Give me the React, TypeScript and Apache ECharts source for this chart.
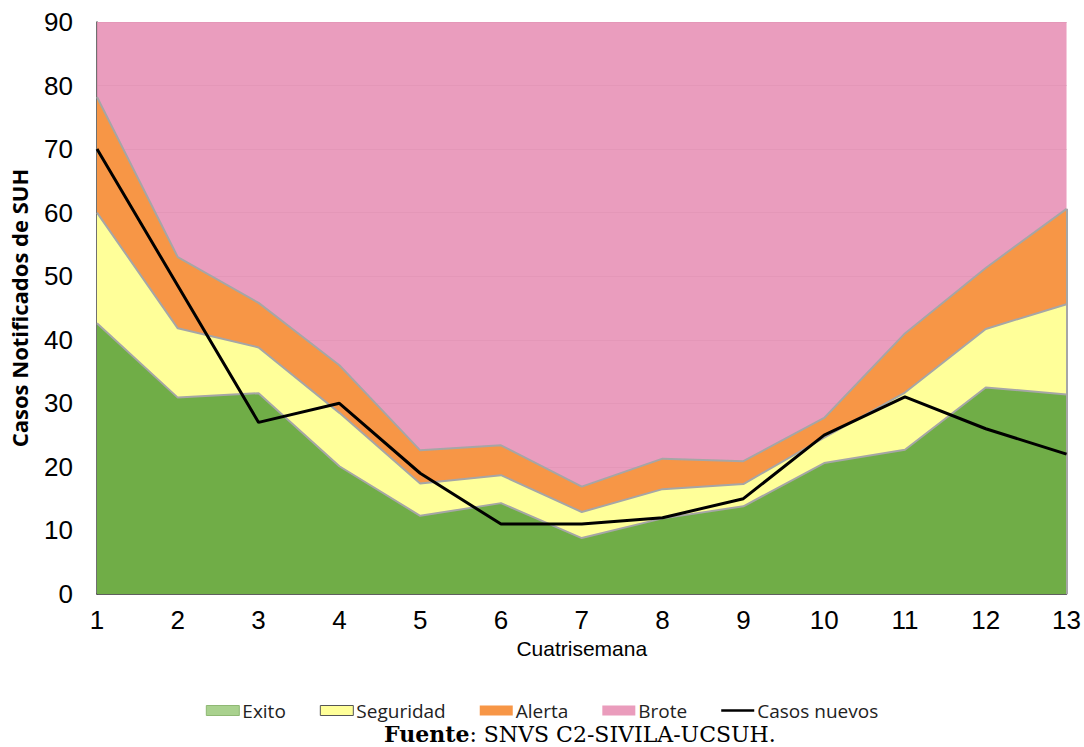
import React, { useEffect, useRef } from "react";
import * as echarts from "echarts";

const categories = ["1", "2", "3", "4", "5", "6", "7", "8", "9", "10", "11", "12", "13"];
const exito = [42.6, 30.9, 31.6, 20.1, 12.3, 14.3, 8.8, 11.9, 13.8, 20.6, 22.7, 32.5, 31.4];
const seguridad = [17.4, 10.9, 7.2, 8.4, 5.1, 4.4, 4.1, 4.6, 3.5, 4.0, 9.0, 9.2, 14.2];
const alerta = [18.2, 11.2, 7.0, 7.5, 5.2, 4.7, 4.0, 4.8, 3.6, 3.1, 9.3, 9.6, 15.0];
const brote = [11.8, 37.0, 44.2, 54.0, 67.4, 66.6, 73.1, 68.7, 69.1, 62.3, 49.0, 38.7, 29.4];
const casosNuevos = [70, 48.5, 27, 30, 19, 11, 11, 12, 15, 25, 31, 26, 22];

export default function App() {
  const ref = useRef<HTMLDivElement>(null);
  useEffect(() => {
    if (!ref.current) return;
    const chart = echarts.init(ref.current, null, { renderer: "svg" });
    const areaSeries = (name: string, data: number[], color: string, z: number) => ({
      name,
      type: "line",
      stack: "total",
      data,
      showSymbol: false,
      symbol: "none",
      z,
      lineStyle: { color: "#A6A6A6", width: 2 },
      itemStyle: { color },
      areaStyle: { color, opacity: 1 },
    });
    chart.setOption({
      animation: false,
      backgroundColor: "#ffffff",
      grid: { left: 97, right: 16, top: 22, bottom: 153 },
      legend: {
        top: 696,
        left: "center",
        itemWidth: 33,
        itemHeight: 10,
        itemGap: 34,
        textStyle: { fontFamily: "Open Sans", fontSize: 19, color: "#222", padding: [0, 0, 0, -2] },
        data: [
          { name: "Exito", icon: "rect", itemStyle: { color: "#A9D18E", borderColor: "#8FB874", borderWidth: 1 } },
          { name: "Seguridad", icon: "rect", itemStyle: { color: "#FFFF99", borderColor: "#555", borderWidth: 1 } },
          { name: "Alerta", icon: "rect", itemStyle: { color: "#F79646" } },
          { name: "Brote", icon: "rect", itemStyle: { color: "#EA9CBC" } },
          { name: "Casos nuevos", icon: "path://M0,0 L33,0 L33,2.5 L0,2.5 Z", itemStyle: { color: "#000" } },
        ],
      },
      xAxis: {
        type: "category",
        data: categories,
        boundaryGap: false,
        name: "Cuatrisemana",
        nameLocation: "middle",
        nameGap: 33,
        nameTextStyle: { fontFamily: "Liberation Sans", fontSize: 21, color: "#000" },
        axisLine: { lineStyle: { color: "#404040", width: 1.5 } },
        axisTick: { show: false },
        axisLabel: { fontFamily: "Liberation Sans", fontSize: 26, color: "#000", margin: 13 },
        splitLine: { show: false },
      },
      yAxis: {
        type: "value",
        min: 0,
        max: 90,
        interval: 10,
        name: "Casos Notificados de SUH",
        nameLocation: "middle",
        nameGap: 67,
        nameTextStyle: { fontFamily: "Open Sans", fontWeight: "bold", fontSize: 22, color: "#000" },
        axisLine: { show: true, lineStyle: { color: "#404040", width: 1.5 } },
        axisTick: { show: false },
        axisLabel: { fontFamily: "Liberation Sans", fontSize: 26, color: "#000", margin: 24 },
        splitLine: { show: true, lineStyle: { color: "#BDBDBD", width: 1 } },
      },
      series: [
        {
          ...areaSeries("Exito", exito, "#70AD47", 2),
          markLine: {
            silent: true,
            symbol: "none",
            label: { show: false },
            lineStyle: { color: "#A6A6A6", width: 2, type: "solid" },
            data: [[{ coord: ["13", 0] }, { coord: ["13", exito[12] + seguridad[12] + alerta[12]] }]],
          },
        },
        areaSeries("Seguridad", seguridad, "#FFFF99", 2),
        areaSeries("Alerta", alerta, "#F79646", 2),
        {
          name: "Brote",
          type: "line",
          stack: "total",
          data: brote,
          showSymbol: false,
          symbol: "none",
          z: 2,
          lineStyle: { width: 0 },
          itemStyle: { color: "#EA9CBC" },
          areaStyle: { color: "rgba(232,146,183,0.9)", opacity: 1 },
        },
        {
          name: "Casos nuevos",
          type: "line",
          data: casosNuevos,
          showSymbol: false,
          symbol: "none",
          z: 5,
          lineStyle: { color: "#000", width: 3 },
          itemStyle: { color: "#000" },
        },
      ],
      graphic: [
        {
          type: "text",
          left: 384,
          top: 723,
          style: {
            text: "{b|Fuente}: SNVS C2-SIVILA-UCSUH.",
            fontFamily: "DejaVu Serif",
            fontSize: 22,
            fill: "#000",
            rich: {
              b: { fontFamily: "DejaVu Serif", fontSize: 22, fontWeight: "bold", fill: "#000" },
            },
          },
        },
      ],
    });
    return () => chart.dispose();
  }, []);
  return <div ref={ref} style={{ width: 1084, height: 747, position: "absolute", left: 0, top: 0 }} />;
}
